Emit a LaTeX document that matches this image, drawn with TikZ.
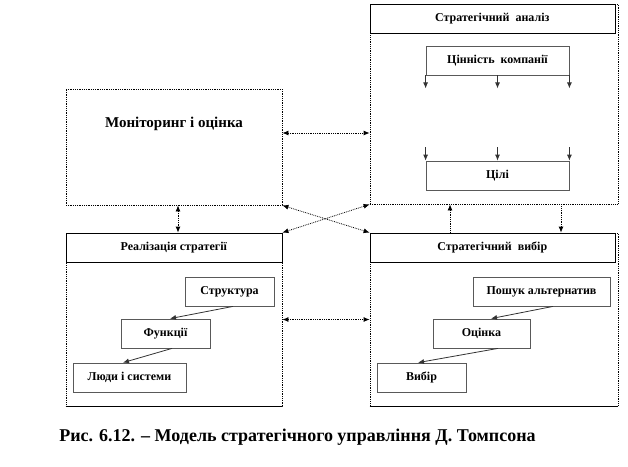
\documentclass[tikz,border=0pt]{standalone}
\usepackage{fontspec}
\setmainfont{Liberation Serif}
\usepackage{tikz}
\usetikzlibrary{arrows,arrows.meta,positioning,scopes}
\newcommand{\fs}[1]{\fontsize{#1}{#1}\selectfont\bfseries}
\tikzset{ob/.style={draw, densely dotted, thick, inner sep=0pt, minimum width=#1},
         hd/.style={draw, inner sep=0pt, minimum height=29pt, font=\fs{12}},
         it/.style={draw=black!65, line width=0.8pt, inner sep=0pt, minimum height=29pt,
            minimum width=#1, font=\fs{12}},
         ln/.style={densely dotted, thick, >={Latex[length=6pt,width=5pt]}, <->}}
\begin{document}
\begin{tikzpicture}[x=1pt, y=-1pt]
\useasboundingbox (0,0) rectangle (628,466);
 % outer frames
 \node[ob=248pt, minimum height=200pt] (ana) at (494,104) {};
 \node[ob=216pt, minimum height=116pt] (mon) at (174,147) {};
 \node[ob=216pt, minimum height=173pt] (real) at (174,319.5) {};
 \node[ob=248pt, minimum height=173pt] (choice) at (494,319.5) {};
 \node[hd, minimum width=245pt, anchor=north west] (anah) at (ana.north west) {Стратегічний\ \ аналіз};
 \node[hd, minimum width=216pt, anchor=north west] (realh) at (real.north west) {Реалізація стратегії};
 \node[hd, minimum width=245pt, anchor=north west] (choiceh) at (choice.north west) {Стратегічний\ \ вибір};
 \draw (real.south west) -- (real.south east);
 \draw (choice.south west) -- (choice.south east);
 \node[font=\fs{15}] (montxt) at (174,124) {Моніторинг і оцінка};
 % inner boxes
 \node[it=143pt] (val) at (497.5,60.5) {Цінність\ \ компанії};
 \node[it=143pt] (goals) at (497.5,175.5) {Цілі};
 \node[it=89pt] (str) at (229.5,291.5) {Структура};
 \node[it=89pt] (fun) at (165.5,333.5) {Функції};
 \node[it=113pt] (ppl) at (129.5,377.5) {Люди і системи};
 \node[it=137pt] (alt) at (541.5,291.5) {Пошук альтернатив};
 \node[it=97pt] (est) at (481.5,333.5) {Оцінка};
 \node[it=89pt] (cho) at (421.5,377.5) {Вибір};
 {[>={Latex[length=6pt,width=5pt]}, black!80, line width=0.8pt]
 \draw[->] (val.south west) -- ++(0,13);
 \draw[->] (val.south) -- ++(0,13);
 \draw[->] (val.south east) -- ++(0,13);
 \draw[<-] (goals.north west) -- ++(0,-14);
 \draw[<-] (goals.north) -- ++(0,-14);
 \draw[<-] (goals.north east) -- ++(0,-14);
 \draw[->] ([xshift=3.5pt]str.south) -- ([xshift=4.5pt]fun.north);
 \draw[->] ([xshift=6.5pt]fun.south) -- ([xshift=-6.5pt]ppl.north);
 \draw[->] ([xshift=11.5pt]alt.south) -- ([xshift=9.5pt]est.north);
 \draw[->] ([xshift=16.5pt]est.south) -- ([xshift=-3.5pt]cho.north);
 }
 % links between frames
 \path (mon.east) ++(0,-14) coordinate (m1);
 \draw[ln] (m1) -- (m1 -| ana.west);
 \draw[ln] (real.east) -- (choice.west);
 \draw[ln] ([xshift=4pt]mon.south) -- ([xshift=4pt]real.north);
 \draw[ln] (mon.south east) -- (choice.north west);
 \draw[ln] (real.north east) -- (ana.south west);
 \draw[ln, <-] ([xshift=-44pt]ana.south) -- ([xshift=-44pt]choice.north);
 \draw[ln, ->] ([xshift=67pt]ana.south) -- ([xshift=67pt]choice.north);
 \node[font=\fs{18}] (cap) at (297.5,437) {Рис. 6.12. – Модель стратегічного управління Д. Томпсона};
\end{tikzpicture}
\end{document}
